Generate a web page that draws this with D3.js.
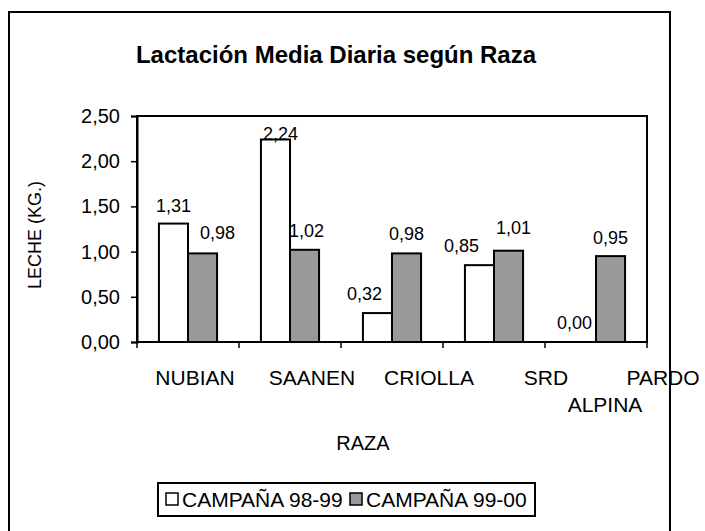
<!DOCTYPE html>
<html>
<head>
<meta charset="utf-8">
<script src="https://cdn.jsdelivr.net/npm/d3@7"></script>
<style>
  html, body { margin: 0; padding: 0; background: #fff; }
  svg { display: block; font-family: "Liberation Sans", Arial, sans-serif; }
</style>
</head>
<body>
<svg id="chart" width="705" height="531"></svg>
<script>
// Daily average milk yield per breed, two seasons
const categories = ["NUBIAN", "SAANEN", "CRIOLLA", "SRD", "PARDO ALPINA"];
const series = ["CAMPAÑA 98-99", "CAMPAÑA 99-00"];
const values9899 = [1.31, 2.24, 0.32, 0.85, 0.00];
const values9900 = [0.98, 1.02, 0.98, 1.01, 0.95];
const yTicks = [0, 0.5, 1.0, 1.5, 2.0, 2.5];

// small nudges that keep neighbouring value labels from colliding
const labelNudge9899 = [[0, 1], [5, 13], [-13, 0], [-18, 0], [-7, 0]];
const labelNudge9900 = [[15, -1], [2, 0], [0, 0], [5, -4], [0, 1]];

const fills = ["#ffffff", "#999999"];
const fmt = v => d3.format(".2f")(v).replace(".", ",");

const svg = d3.select("#chart");

// outer chart frame (bottom edge runs past the page)
svg.append("rect")
  .attr("x", 9).attr("y", 12).attr("width", 661).attr("height", 540)
  .attr("fill", "none").attr("stroke", "#000").attr("stroke-width", 2);

// title
svg.append("text")
  .attr("x", 336).attr("y", 63)
  .attr("text-anchor", "middle")
  .attr("font-size", 24).attr("font-weight", "bold")
  .text("Lactación Media Diaria según Raza");

const plot = { left: 137, right: 647, top: 116, bottom: 342 };

const x = d3.scaleBand()
  .domain(categories)
  .range([plot.left, plot.right])
  .paddingInner(0.43)
  .paddingOuter(0.215);

const xSub = d3.scaleBand()
  .domain(series)
  .range([0, x.bandwidth()]);

const y = d3.scaleLinear()
  .domain([0, 2.5])
  .range([plot.bottom, plot.top]);

// plot frame
svg.append("rect")
  .attr("x", plot.left).attr("y", plot.top)
  .attr("width", plot.right - plot.left).attr("height", plot.bottom - plot.top)
  .attr("fill", "none").attr("stroke", "#000").attr("stroke-width", 2);

// y axis
const yAxis = svg.append("g")
  .attr("transform", `translate(${plot.left},0)`)
  .call(d3.axisLeft(y).tickValues(yTicks).tickFormat(fmt).tickSize(6).tickPadding(11));
yAxis.select(".domain").attr("stroke-width", 2);
yAxis.selectAll(".tick line").attr("stroke-width", 1.5);
yAxis.selectAll(".tick text")
  .attr("font-size", 20).attr("fill", "#000")
  .attr("font-family", "Liberation Sans, Arial, sans-serif");

// x axis: ticks sit on band boundaries
const step = x.step();
const boundaries = d3.range(categories.length + 1).map(i => plot.left + i * step);
svg.append("g").selectAll("line")
  .data(boundaries)
  .join("line")
  .attr("x1", d => d).attr("x2", d => d)
  .attr("y1", plot.bottom).attr("y2", plot.bottom + 6)
  .attr("stroke", "#000").attr("stroke-width", 1.5);

// category labels, spread a bit wider than the bands
const xLabel = d3.scalePoint()
  .domain(categories)
  .range([195, 663]);
const catLines = {"PARDO ALPINA": [["PARDO", 0], ["ALPINA", -58]]};
const catText = svg.append("g").selectAll("text")
  .data(categories)
  .join("text")
  .attr("font-size", 21)
  .attr("text-anchor", "middle")
  .attr("y", 385);
catText.each(function(d) {
  const lines = catLines[d] || [[d, 0]];
  const t = d3.select(this);
  lines.forEach(([s, dx], i) => {
    t.append("tspan")
      .attr("x", xLabel(d) + dx)
      .attr("dy", i === 0 ? 0 : 27)
      .text(s);
  });
});

// axis titles
svg.append("text")
  .attr("x", 363).attr("y", 450)
  .attr("text-anchor", "middle").attr("font-size", 20)
  .text("RAZA");
svg.append("text")
  .attr("transform", `translate(41,${(plot.top + plot.bottom) / 2 + 6}) rotate(-90)`)
  .attr("text-anchor", "middle").attr("font-size", 18)
  .text("LECHE (KG.)");

// bars
const rows = categories.map((c, i) => ({
  cat: c,
  vals: [values9899[i], values9900[i]],
  nudge: [labelNudge9899[i], labelNudge9900[i]]
}));

const groups = svg.append("g").selectAll("g")
  .data(rows)
  .join("g")
  .attr("transform", d => `translate(${x(d.cat)},0)`);

groups.selectAll("rect")
  .data(d => d.vals.map((v, j) => ({ s: series[j], v, j })))
  .join("rect")
  .attr("x", d => xSub(d.s))
  .attr("y", d => y(d.v))
  .attr("width", xSub.bandwidth())
  .attr("height", d => y(0) - y(d.v))
  .attr("fill", d => fills[d.j])
  .attr("stroke", "#000").attr("stroke-width", 2);

groups.selectAll("text")
  .data(d => d.vals.map((v, j) => ({ s: series[j], v, j, n: d.nudge[j] })))
  .join("text")
  .attr("x", d => xSub(d.s) + xSub.bandwidth() / 2 + d.n[0])
  .attr("y", d => y(d.v) - 13 + d.n[1])
  .attr("text-anchor", "middle")
  .attr("font-size", 18)
  .text(d => fmt(d.v));

// legend
const legend = svg.append("g");
legend.append("rect")
  .attr("x", 158).attr("y", 483).attr("width", 377).attr("height", 33)
  .attr("fill", "#fff").attr("stroke", "#000").attr("stroke-width", 2);
const legendX = [166, 350];
series.forEach((s, j) => {
  legend.append("rect")
    .attr("x", legendX[j]).attr("y", 493).attr("width", 12).attr("height", 12)
    .attr("fill", fills[j]).attr("stroke", "#000").attr("stroke-width", 1.5);
  legend.append("text")
    .attr("x", legendX[j] + 16).attr("y", 507)
    .attr("font-size", 21)
    .text(s);
});
</script>
</body>
</html>
